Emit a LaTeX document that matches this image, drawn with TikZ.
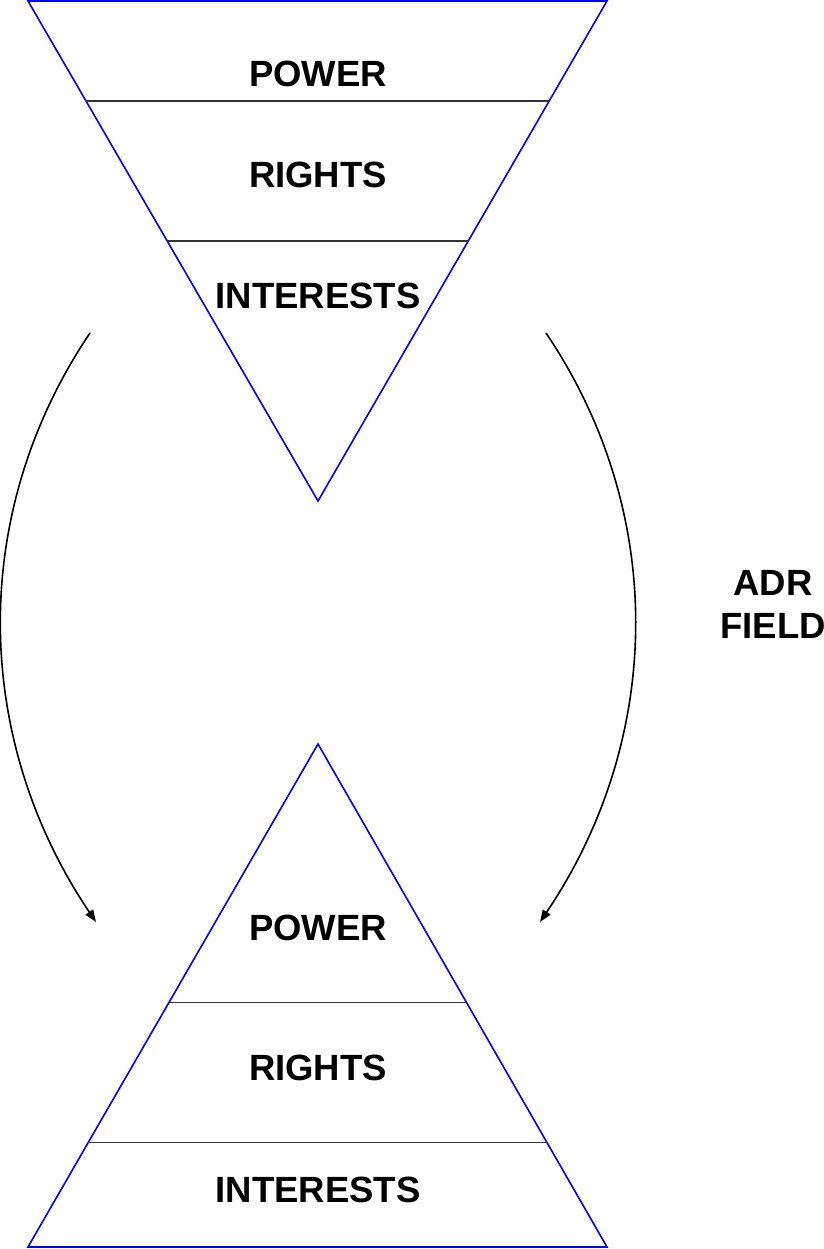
\documentclass[tikz,border=0pt]{standalone}
\usepackage{fontspec}
\setmainfont{Liberation Sans}
\usepackage{tikz}
\usetikzlibrary{arrows.meta,calc}
\definecolor{ink}{HTML}{000000}
\definecolor{edge}{HTML}{0000FF}
\definecolor{rule}{HTML}{333333}
\tikzset{
  lvl/.style={font=\fontsize{36.5}{43}\selectfont\bfseries, text=ink, inner sep=0pt,
              align=center},
  tri/.style={draw=edge, line width=1.6pt, line join=miter},
  sep/.style={draw=rule, line width=1.3pt},
  flow/.style={-{Triangle[length=12pt,width=9pt]}, line width=1.6pt, draw=ink},
}
\begin{document}
\begin{tikzpicture}[x=1pt, y=1pt]
    \useasboundingbox (0,0) rectangle (823,1249);
    % upper (inverted) triangle
    \coordinate (tl) at (28,1248);
    \coordinate (tr) at (607,1248);
    \coordinate (tap) at (318,748);
    \draw[tri] (tl) -- (tr) -- (tap) -- cycle;
    \draw[sep] ($(tl)!0.2!(tap)$) -- ($(tr)!0.2!(tap)$);
    \draw[sep] ($(tl)!0.48!(tap)$) -- ($(tr)!0.48!(tap)$);
    \node[lvl] (tpow) at (318,1175) {POWER};
    \node[lvl] (trig) at (318,1074) {RIGHTS};
    \node[lvl] (tint) at (318,953) {INTERESTS};
    % lower triangle
    \coordinate (bl) at (28,2);
    \coordinate (br) at (607,2);
    \coordinate (bap) at (318,505);
    \draw[tri] (bl) -- (br) -- (bap) -- cycle;
    \draw[sep] ($(bl)!0.208!(bap)$) -- ($(br)!0.208!(bap)$);
    \draw[sep] ($(bl)!0.486!(bap)$) -- ($(br)!0.486!(bap)$);
    \node[lvl] (bpow) at (318,321) {POWER};
    \node[lvl] (brig) at (318,181) {RIGHTS};
    \node[lvl] (bint) at (318,59) {INTERESTS};
    % field
    \node[lvl] (adr) at (773,645) {ADR\\FIELD};
    % arcs
    \coordinate (ls) at (90,916);
    \coordinate (le) at (96,327);
    \coordinate (rs) at (546,916);
    \coordinate (re) at (540,327);
    \draw[flow] (ls) to[out=236, in=124, looseness=0.95] (le);
    \draw[flow] (rs) to[out=304, in=56, looseness=0.95] (re);
  \end{tikzpicture}
\end{document}
